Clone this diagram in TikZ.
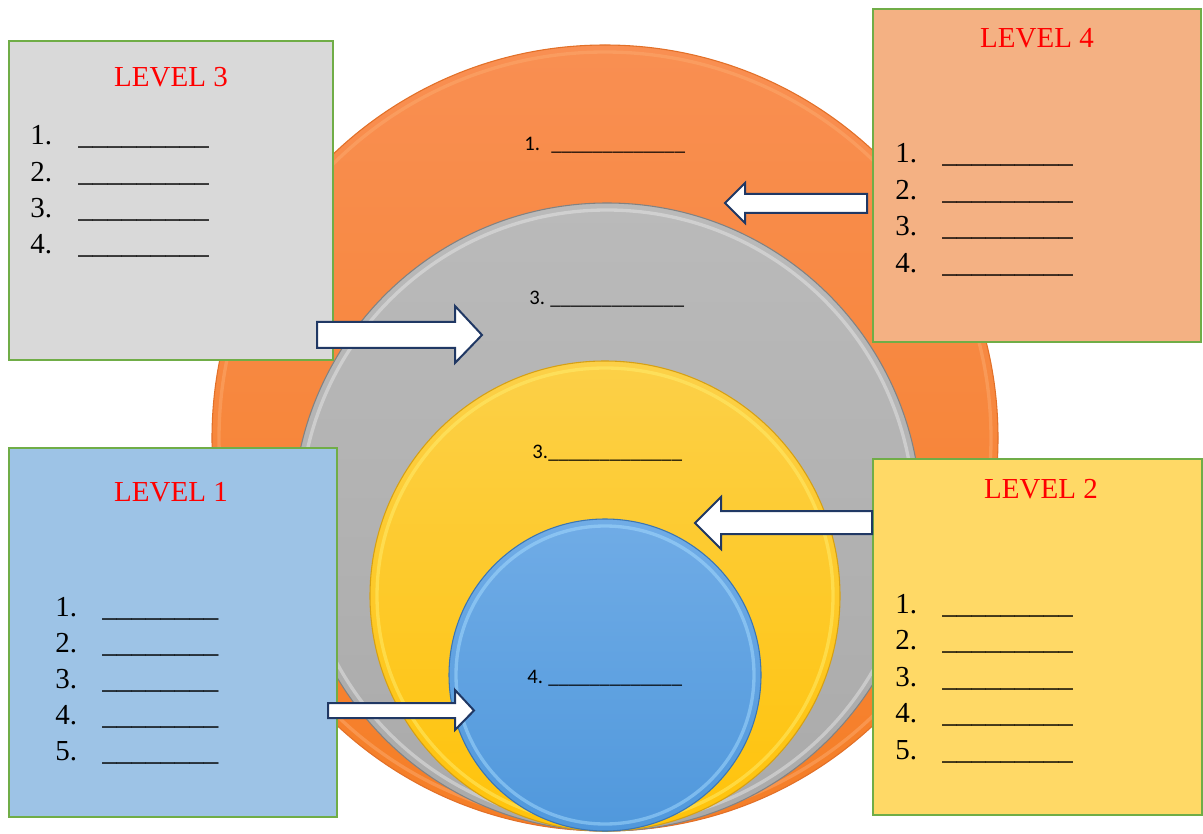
\documentclass[tikz,border=0pt]{standalone}
\usepackage{fontspec}
\setmainfont{Liberation Serif}
\newfontfamily\calfont{Carlito}
\definecolor{boxgreen}{RGB}{112,173,71}
\definecolor{arrowblue}{RGB}{32,56,100}
\definecolor{grayfill}{RGB}{217,217,217}
\definecolor{peachfill}{RGB}{244,177,131}
\definecolor{bluefill}{RGB}{157,195,230}
\definecolor{yellowfill}{RGB}{255,217,102}
\definecolor{orgTop}{RGB}{249,143,82}
\definecolor{orgBot}{RGB}{245,126,38}
\definecolor{orgEdge}{RGB}{226,112,40}
\definecolor{orgRing}{RGB}{252,170,110}
\definecolor{gryTop}{RGB}{186,186,186}
\definecolor{gryBot}{RGB}{170,170,170}
\definecolor{gryEdge}{RGB}{130,130,130}
\definecolor{gryRing}{RGB}{230,230,230}
\definecolor{ylwTop}{RGB}{252,208,72}
\definecolor{ylwBot}{RGB}{255,195,10}
\definecolor{ylwEdge}{RGB}{214,160,20}
\definecolor{ylwRing}{RGB}{255,238,110}
\definecolor{bluTop}{RGB}{112,172,230}
\definecolor{bluBot}{RGB}{80,152,220}
\definecolor{bluEdge}{RGB}{60,118,178}
\definecolor{bluRing}{RGB}{166,220,255}
\newcommand\blankNine{\_\_\_\_\_\_\_\_\_}
\newcommand\blankEight{\_\_\_\_\_\_\_\_}
\newcommand\blankThirteen{\_\_\_\_\_\_\_\_\_\_\_\_\_}
\begin{document}
\begin{tikzpicture}[x=0.75pt,y=0.75pt,
  box/.style={draw=boxgreen, line width=1.5pt},
  title/.style={text=red, font=\fontsize{21.75}{26}\selectfont, inner sep=0pt, anchor=base},
  item/.style={text=black, font=\fontsize{21.75}{26}\selectfont, inner sep=0pt, anchor=base west},
  lab/.style={text=black, font=\calfont\fontsize{15.5}{18}\selectfont, inner sep=0pt, anchor=base west},
  blockarrow/.style={draw=arrowblue, fill=white, line width=1.5pt, line join=miter},
  ring/.style={line width=2.5pt, opacity=0.5}]
\useasboundingbox (0,0) rectangle (1203,833);
\fill[white] (0,0) rectangle (1203,833);

% nested discs
\coordinate (cOrange) at (605,395);
\coordinate (cGray) at (607,316);
\coordinate (cYellow) at (605,237);
\coordinate (cBlue) at (605,158);

\shade[top color=orgTop, bottom color=orgBot] (cOrange) circle (393);
\draw[orgRing, ring] (cOrange) circle (386);
\draw[orgEdge, line width=0.8pt] (cOrange) circle (393);

\shade[top color=gryTop, bottom color=gryBot] (cGray) circle (314);
\draw[gryRing, ring] (cGray) circle (307);
\draw[gryEdge, line width=0.8pt] (cGray) circle (314);

\shade[top color=ylwTop, bottom color=ylwBot] (cYellow) circle (235);
\draw[ylwRing, ring] (cYellow) circle (228);
\draw[ylwEdge, line width=0.8pt] (cYellow) circle (235);

\shade[top color=bluTop, bottom color=bluBot] (cBlue) circle (156);
\draw[bluRing, ring] (cBlue) circle (149);
\draw[bluEdge, line width=0.8pt] (cBlue) circle (156);

% disc labels
\node[lab] (o1n) at (524,682) {1.};
\node[lab] (o1u) at (551,682) {\blankThirteen};
\node[lab] (g3n) at (529,528) {3.};
\node[lab] (g3u) at (550,528) {\blankThirteen};
\node[lab] (y3n) at (532,375) {3.};
\node[lab] (y3u) at (548,375) {\blankThirteen};
\node[lab] (b4n) at (527,150) {4.};
\node[lab] (b4u) at (548,150) {\blankThirteen};

% boxes
\draw[box, fill=grayfill] (9,792) rectangle (333,473);
\draw[box, fill=peachfill] (873,824) rectangle (1201,491);
\draw[box, fill=bluefill] (9,385) rectangle (337,16);
\draw[box, fill=yellowfill] (873,374) rectangle (1201.5,18);

% LEVEL 3
\node[title] (t3) at (171,746) {LEVEL 3};
\foreach \i in {1,...,4}{
  \node[item] (l3n\i) at (30,{688-36.3*(\i-1)}) {\i.};
  \node[item] (l3u\i) at (78,{688-36.3*(\i-1)}) {\blankNine};
}
% LEVEL 4
\node[title] (t4) at (1037,785) {LEVEL 4};
\foreach \i in {1,...,4}{
  \node[item] (l4n\i) at (895,{670-36.5*(\i-1)}) {\i.};
  \node[item] (l4u\i) at (942,{670-36.5*(\i-1)}) {\blankNine};
}
% LEVEL 1
\node[title] (t1) at (171,332) {LEVEL 1};
\foreach \i in {1,...,5}{
  \node[item] (l1n\i) at (55,{217-36.2*(\i-1)}) {\i.};
  \node[item] (l1u\i) at (102,{217-36.2*(\i-1)}) {\blankEight};
}
% LEVEL 2
\node[title] (t2) at (1041,335) {LEVEL 2};
\foreach \i in {1,...,5}{
  \node[item] (l2n\i) at (895,{220-36.5*(\i-1)}) {\i.};
  \node[item] (l2u\i) at (942,{220-36.5*(\i-1)}) {\blankNine};
}

% block arrows
\draw[blockarrow] (317,511) -- (455,511) -- (455,527) -- (482,498) -- (455,470) -- (455,485) -- (317,485) -- cycle;
\draw[blockarrow] (867,639) -- (745,639) -- (745,650) -- (725,630) -- (745,610) -- (745,620) -- (867,620) -- cycle;
\draw[blockarrow] (872,322) -- (721,322) -- (721,336) -- (695,310) -- (721,284) -- (721,299) -- (872,299) -- cycle;
\draw[blockarrow] (328,130) -- (455,130) -- (455,143) -- (474,122.5) -- (455,103) -- (455,115) -- (328,115) -- cycle;
\end{tikzpicture}
\end{document}
